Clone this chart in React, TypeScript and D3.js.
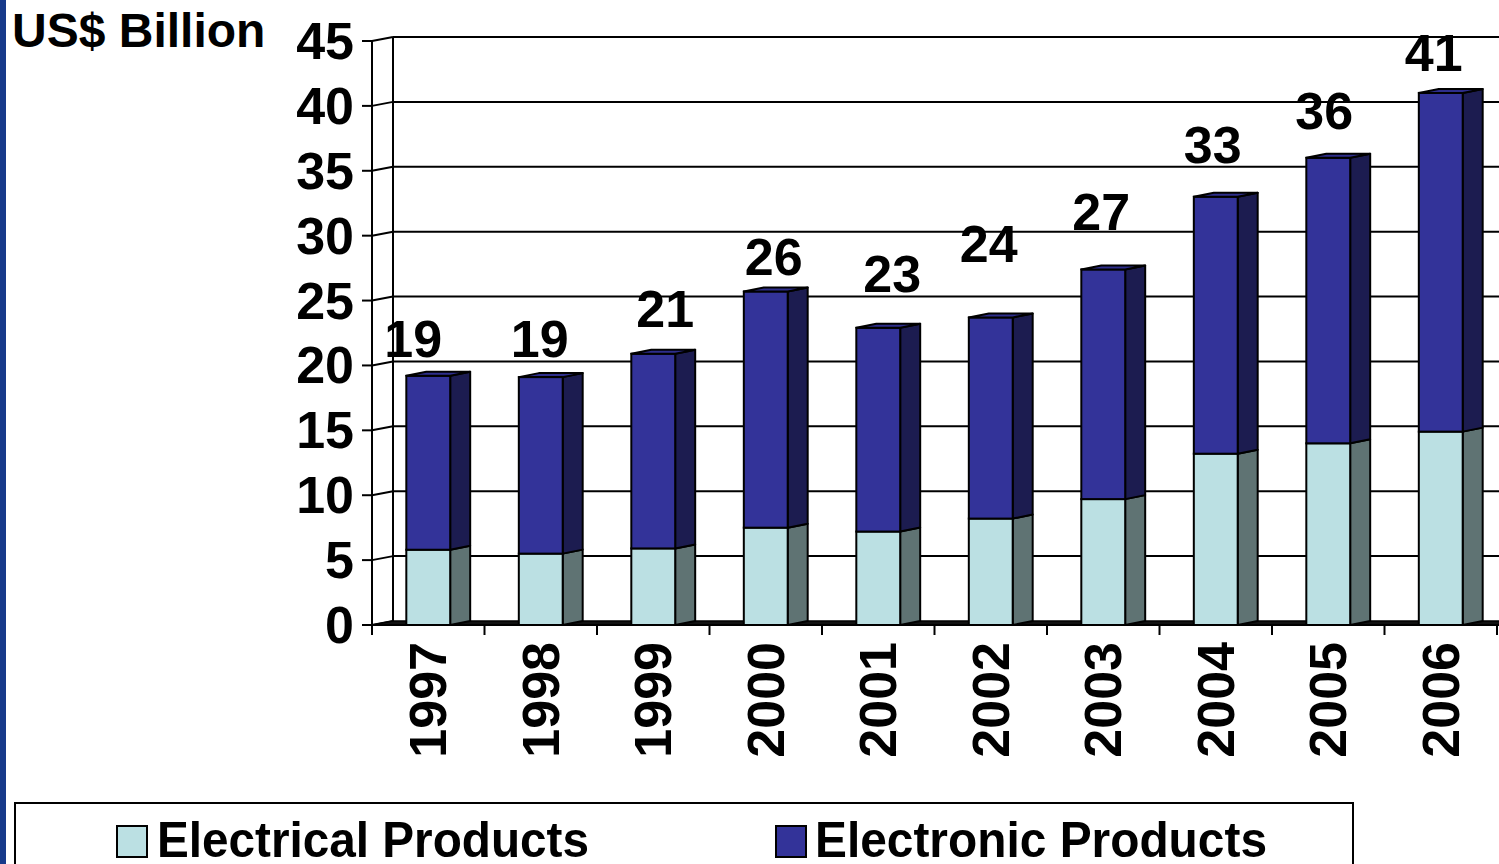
import React from 'react';
import * as d3 from 'd3';

const years = ['1997', '1998', '1999', '2000', '2001', '2002', '2003', '2004', '2005', '2006'];
const electrical = [5.8, 5.5, 5.9, 7.5, 7.2, 8.2, 9.7, 13.2, 14.0, 14.9];
const electronic = [13.4, 13.6, 15.0, 18.2, 15.7, 15.5, 17.7, 19.8, 22.0, 26.1];
const totalLabels = ['19', '19', '21', '26', '23', '24', '27', '33', '36', '41'];
const yTicks = [0, 5, 10, 15, 20, 25, 30, 35, 40, 45];
const seriesNames = ['Electrical Products', 'Electronic Products'];

// layout constants (label nudges relative to the top of each bar)
const labelDx = [-15, -1, 12, 8, 14, -2, -2, -3, -4, -7];
const labelDy = [-19, -20, -27, -16, -36, -55, -39, -34, -29, -22];

const W = 1499;
const H = 864;
const DX = 21; // wall depth offset
const DY = -4;
const BDX = 20; // bar depth offset
const BDY = -4;

const FONT = '"Liberation Sans", Arial, sans-serif';

export default function App() {
  const x = d3
    .scaleBand<string>()
    .domain(years)
    .range([372, 1497])
    .paddingInner(0.61)
    .paddingOuter(0.305);
  const step = x.step();
  const left = 372;
  const right = 1497;
  const y = d3.scaleLinear().domain([0, 45]).range([625, 41]);
  const bw = x.bandwidth();

  const cols = {
    elecFront: '#BBE0E3',
    elecSide: '#5F7373',
    tronFront: '#333399',
    tronSide: '#1C1C50',
    tronTop: '#2E2E8C',
  };

  const bars: React.ReactNode[] = [];
  years.forEach((yr, i) => {
    const x0 = x(yr)!;
    const x1 = x0 + bw;
    const segs = [
      { lo: 0, hi: electrical[i], front: cols.elecFront, side: cols.elecSide },
      { lo: electrical[i], hi: electrical[i] + electronic[i], front: cols.tronFront, side: cols.tronSide },
    ];
    segs.forEach((s, j) => {
      const yb = y(s.lo);
      const yt = y(s.hi);
      bars.push(
        <g key={`${yr}-${j}`}>
          <polygon
            points={`${x1},${yb} ${x1 + BDX},${yb + BDY} ${x1 + BDX},${yt + BDY} ${x1},${yt}`}
            fill={s.side}
            stroke="#000"
            strokeWidth={2}
            strokeLinejoin="round"
          />
          <rect x={x0} y={yt} width={bw} height={yb - yt} fill={s.front} stroke="#000" strokeWidth={2} />
        </g>
      );
    });
    const yt = y(electrical[i] + electronic[i]);
    bars.push(
      <polygon
        key={`${yr}-top`}
        points={`${x0},${yt} ${x0 + BDX},${yt + BDY} ${x1 + BDX},${yt + BDY} ${x1},${yt}`}
        fill={cols.tronTop}
        stroke="#000"
        strokeWidth={2}
        strokeLinejoin="round"
      />
    );
  });

  return (
    <svg
      width={W}
      height={H}
      viewBox={`0 0 ${W} ${H}`}
      style={{ position: 'absolute', left: 0, top: 0, background: '#fff' }}
    >
      <rect x={0} y={0} width={W} height={H} fill="#fff" />
      <rect x={0} y={0} width={6} height={H} fill="#173A8A" />

      <text x={12} y={47} fontFamily={FONT} fontWeight="bold" fontSize={48} fill="#000">
        US$ Billion
      </text>

      {/* walls & gridlines */}
      {yTicks.map((t) => (
        <g key={`g${t}`}>
          <line x1={left - 10} y1={y(t)} x2={left} y2={y(t)} stroke="#000" strokeWidth={2} />
          <line x1={left} y1={y(t)} x2={left + DX} y2={y(t) + DY} stroke="#000" strokeWidth={2} />
          {t > 0 && (
            <line x1={left + DX} y1={y(t) + DY} x2={W + 30} y2={y(t) + DY} stroke="#000" strokeWidth={2} />
          )}
          <text
            x={354}
            y={y(t) + 18}
            textAnchor="end"
            fontFamily={FONT}
            fontWeight="bold"
            fontSize={52}
            fill="#000"
          >
            {t}
          </text>
        </g>
      ))}
      <line x1={left} y1={y(45)} x2={left} y2={y(0) + 10} stroke="#000" strokeWidth={2} />
      <line x1={left + DX} y1={y(45) + DY} x2={left + DX} y2={y(0) + DY} stroke="#000" strokeWidth={2} />

      {/* floor */}
      <polygon
        points={`${left},${y(0)} ${left + DX},${y(0) + DY} ${W + 40},${y(0) + DY} ${W + 40},${y(0)}`}
        fill="#111"
        stroke="#000"
        strokeWidth={1.5}
      />

      {/* x ticks */}
      {d3.range(years.length + 1).map((k) => (
        <line
          key={`xt${k}`}
          x1={left + k * step}
          y1={y(0)}
          x2={left + k * step}
          y2={y(0) + 10}
          stroke="#000"
          strokeWidth={2}
        />
      ))}
      <line x1={left} y1={y(0)} x2={right + 10} y2={y(0)} stroke="#000" strokeWidth={2} />

      {bars}

      {/* value labels */}
      {years.map((yr, i) => {
        const cx = x(yr)! + bw / 2;
        const yt = y(electrical[i] + electronic[i]);
        return (
          <text
            key={`v${yr}`}
            x={cx + labelDx[i]}
            y={yt + labelDy[i]}
            textAnchor="middle"
            fontFamily={FONT}
            fontWeight="bold"
            fontSize={52}
            fill="#000"
          >
            {totalLabels[i]}
          </text>
        );
      })}

      {/* x labels */}
      {years.map((yr) => {
        const cx = x(yr)! + bw / 2 + 18;
        const yy = 642;
        return (
          <text
            key={`xl${yr}`}
            transform={`translate(${cx},${yy}) rotate(-90)`}
            textAnchor="end"
            fontFamily={FONT}
            fontWeight="bold"
            fontSize={52}
            fill="#000"
          >
            {yr}
          </text>
        );
      })}

      {/* legend */}
      <rect x={15} y={803} width={1338} height={120} fill="#fff" stroke="#000" strokeWidth={2} />
      <rect x={117} y={826} width={30} height={31} fill={cols.elecFront} stroke="#000" strokeWidth={2} />
      <text x={157} y={857} fontFamily={FONT} fontWeight="bold" fontSize={50} fill="#000" textLength={432} lengthAdjust="spacingAndGlyphs">
        {seriesNames[0]}
      </text>
      <rect x={776} y={826} width={30} height={31} fill={cols.tronFront} stroke="#000" strokeWidth={2} />
      <text x={815} y={857} fontFamily={FONT} fontWeight="bold" fontSize={50} fill="#000" textLength={452} lengthAdjust="spacingAndGlyphs">
        {seriesNames[1]}
      </text>
    </svg>
  );
}
